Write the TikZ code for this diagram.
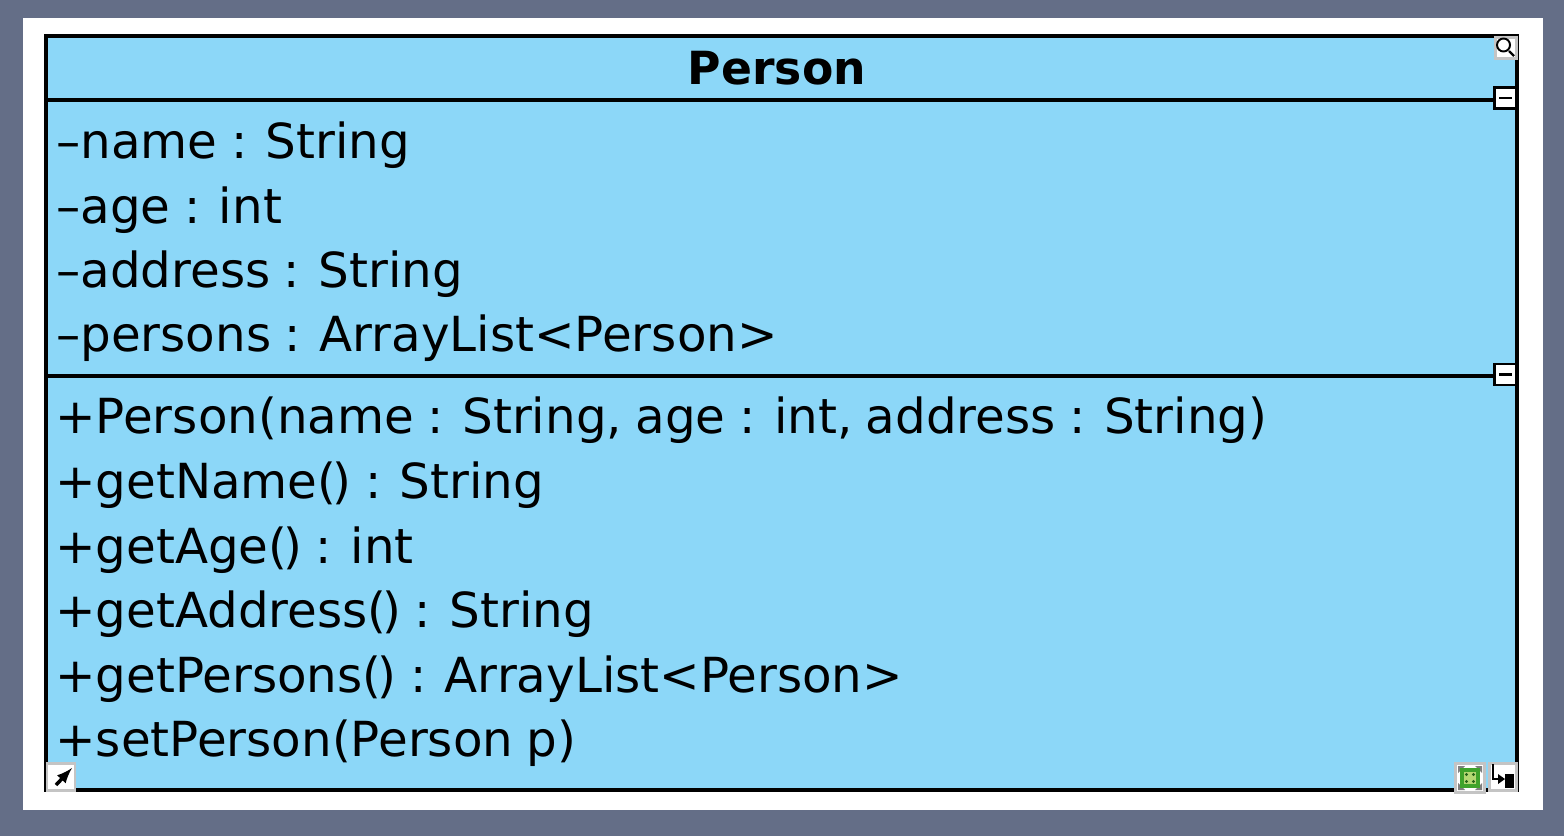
\documentclass[tikz,border=0pt]{standalone}
\usepackage{fontspec}
\setmainfont[WordSpace=0.88]{DejaVu Sans}
\usepackage{tikz}
\definecolor{slate}{HTML}{646E87}
\definecolor{classblue}{HTML}{8CD7F8}
\definecolor{handlegray}{HTML}{C4C4C4}
\definecolor{anchorgreen}{HTML}{3FA32B}
\definecolor{anchorlight}{HTML}{B4D873}
\newcommand{\noargs}{(\kern-0.08em)}
\tikzset{
    member/.style={anchor=base west,inner sep=0pt,font=\fontsize{27.5}{30}\selectfont},
    title/.style={anchor=base,inner sep=0pt,font=\fontsize{26}{30}\selectfont\bfseries},
    handle/.style={draw=black,fill=white,line width=1.4pt,minimum width=0.44cm,minimum height=0.42cm,inner sep=0pt},
    grayhandle/.style={draw=handlegray,fill=white,line width=1.4pt,inner sep=0pt}
}
\begin{document}
\begin{tikzpicture}[x=0.02cm,y=-0.02cm]
    % background
    \useasboundingbox (0,0) rectangle (1564,836);
    \fill[slate] (0,0) rectangle (1564,836);
    \fill[white] (23,18) rectangle (1543,810);

    % class box
    \node[draw=black,fill=classblue,line width=2.6pt,minimum width=29.42cm,minimum height=15.08cm,inner sep=0pt] (box) at (781.5,413) {};
    \coordinate (attrl) at (46,100);
    \coordinate (attrr) at (1517,100);
    \coordinate (methl) at (46,376);
    \coordinate (methr) at (1517,376);
    \draw[line width=2.6pt] (attrl) -- (attrr);
    \draw[line width=2.6pt] (methl) -- (methr);

    % texts
    \node[title] (name) at (777,84) {Person};
    \node[member] (a1) at (56,158) {–name : String};
    \node[member] (a2) at (56,223) {–age : int};
    \node[member] (a3) at (56,287) {–address : String};
    \node[member] (a4) at (56,351) {–persons : ArrayList<Person>};
    \node[member] (m1) at (55,433) {+Person(name : String, age : int, address : String)};
    \node[member] (m2) at (55,498) {+getName\noargs{} : String};
    \node[member] (m3) at (55,563) {+getAge\noargs{} : int};
    \node[member] (m4) at (55,627) {+getAddress\noargs{} : String};
    \node[member] (m5) at (55,692) {+getPersons\noargs{} : ArrayList<Person>};
    \node[member] (m6) at (55,756) {+setPerson(Person p)};

    % collapse handles
    \node[handle] (h1) at (1505.5,98) {};
    \node[handle] (h2) at (1505.5,374.5) {};
    \foreach \y in {98,374.5} \draw[line width=1.2pt] (1499,\y) -- (1512,\y);

    % magnifier
    \node[grayhandle,minimum width=0.42cm,minimum height=0.42cm] (zoom) at (1506,48) {};
    \draw[black,line width=1.1pt] (1503.5,45) circle (6.5);
    \draw[black,line width=1.3pt] (1509,51) -- (1514,56);

    % corner handles
    \node[grayhandle,minimum width=0.56cm,minimum height=0.54cm] (link) at (61,777) {};
    \draw[-latex,line width=2pt] (56,785) -- (72,768);
    \node[grayhandle,minimum width=0.58cm,minimum height=0.58cm] (anchor) at (1470,778) {};
    \foreach \dx/\dy in {-1/-1,1/-1,1/1,-1/1}
        \fill[gray] (1470+12*\dx,778+12*\dy) -- (1470+5*\dx,778+12*\dy) -- (1470+12*\dx,778+5*\dy) -- cycle;
    \node[draw=anchorgreen,fill=anchorlight,line width=2.2pt,minimum width=0.32cm,minimum height=0.32cm,inner sep=0pt] (anchorin) at (1470,778) {};
    \foreach \dx in {-3.5,3.5} \foreach \dy in {-3.5,3.5} \fill[anchorgreen!60!black] (1470+\dx,778+\dy) circle (1.6);
    \node[grayhandle,minimum width=0.54cm,minimum height=0.54cm] (route) at (1503,777) {};
    \draw[line width=1.2pt] (1493,764) -- (1493,779) -- (1503,779);
    \fill (1498,774) -- (1505,779) -- (1498,784) -- cycle;
    \fill (1505,774) rectangle (1514,788);
\end{tikzpicture}
\end{document}
